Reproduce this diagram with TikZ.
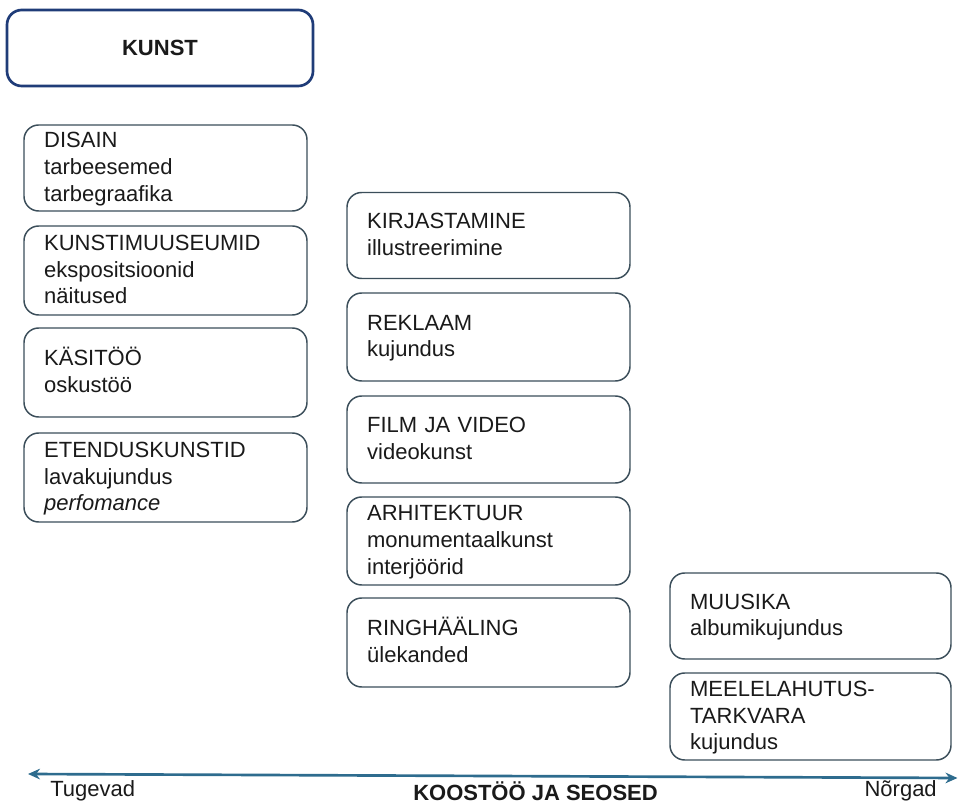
\documentclass[tikz,border=0pt]{standalone}
\usepackage{fontspec}
\setmainfont{Liberation Sans}
\usetikzlibrary{arrows.meta}
\definecolor{boxc}{HTML}{3B4E5A}
\definecolor{navy}{HTML}{1F3C78}
\definecolor{arrc}{HTML}{2E6C8E}
\definecolor{txt}{HTML}{1A1A1A}
\newcommand\topst{\rule{0pt}{16.5pt}}
\newcommand\botst{\rule[-6.5pt]{0pt}{6.5pt}}
\tikzset{
  bx/.style={draw=boxc, line width=1.1pt, rounded corners=11pt, fill=white,
    minimum width=212.25pt, minimum height=65pt, text width=182pt,
    inner xsep=15pt, inner ysep=0pt, align=left, text=txt,
    font=\fontsize{16.5}{20}\selectfont},
  bxr/.style={bx, minimum width=210.75pt, text width=180.5pt},
  lbl/.style={inner sep=0pt, text=txt, font=\fontsize{16.5}{20}\selectfont},
}
\begin{document}
\begin{tikzpicture}[x=0.75pt,y=-0.75pt]
\useasboundingbox (0,0) rectangle (958,805);
\node[draw=navy, line width=2pt, rounded corners=11pt, minimum width=229.5pt, minimum height=57pt,
  text=txt, font=\fontsize{16.5}{20}\selectfont\bfseries] (kunst) at (160,48) {KUNST};

\node[bx, minimum height=64.5pt] (disain) at (165.5,168) {\topst DISAIN\\tarbeesemed\\tarbegraafika\botst};
\node[bx, minimum height=66.75pt] (muuseum) at (165.5,270.5) {\topst KUNSTIMUUSEUMID\\ekspositsioonid\\näitused\botst};
\node[bx, minimum height=66.75pt] (kasitoo) at (165.5,372.5) {\topst KÄSITÖÖ\\oskustöö\botst};
\node[bx, minimum height=66.75pt] (etendus) at (165.5,477.5) {\topst ETENDUSKUNSTID\\lavakujundus\\\textit{perfomance}\botst};

\node[bx, minimum height=64.5pt] (kirjastamine) at (488.5,235.5) {\topst KIRJASTAMINE\\illustreerimine\botst};
\node[bx, minimum height=66pt] (reklaam) at (488.5,337) {\topst REKLAAM\\kujundus\botst};
\node[bx, minimum height=65.25pt] (film) at (488.5,439.5) {\topst FILM JA VIDEO\\videokunst\botst};
\node[bx, minimum height=66pt] (arhitektuur) at (488.5,541) {\topst ARHITEKTUUR\\monumentaalkunst\\interjöörid\botst};
\node[bx, minimum height=66.75pt] (ringhaaling) at (488.5,642.5) {\topst RINGHÄÄLING\\ülekanded\botst};

\node[bxr, minimum height=64.5pt] (muusika) at (810.5,616) {\topst MUUSIKA\\albumikujundus\botst};
\node[bxr, minimum height=65.25pt] (meelelahutus) at (810.5,716.5) {\topst MEELELAHUTUS-\\TARKVARA\\kujundus\botst};

\coordinate (aL) at (28,774);
\coordinate (aR) at (957.5,778);
\draw[arrc, line width=2pt, {Stealth[length=9pt,width=8pt]}-{Stealth[length=9pt,width=8pt]}] (aL) -- (aR);

\node[lbl, anchor=base west] (tugevad) at (50,797) {Tugevad};
\node[lbl, anchor=base east] (norgad) at (937,797) {Nõrgad};
\node[lbl, anchor=base, font=\fontsize{16.5}{20}\selectfont\bfseries] (koostoo) at (535.5,801) {KOOSTÖÖ JA SEOSED};
\end{tikzpicture}
\end{document}
